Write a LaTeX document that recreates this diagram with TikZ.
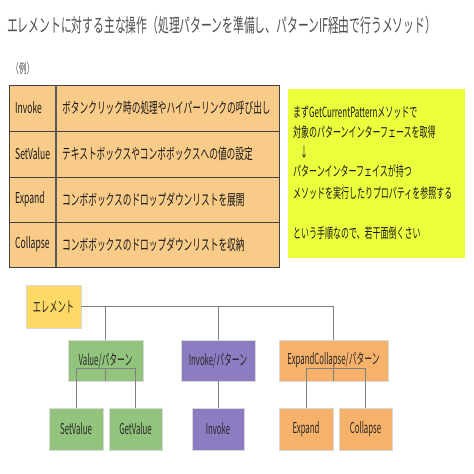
\documentclass[tikz,border=0pt]{standalone}
\usepackage{fontspec}
\usepackage{graphicx}
\setmainfont{Noto Sans CJK JP}
\newcommand{\cnd}[2]{\scalebox{#1}[1]{#2}}
\definecolor{tblfill}{HTML}{F9CB88}
\definecolor{notefill}{HTML}{ECFF3C}
\definecolor{elemfill}{HTML}{FFD966}
\definecolor{grnfill}{HTML}{93C47D}
\definecolor{purfill}{HTML}{8E7CC3}
\definecolor{orgfill}{HTML}{F6B26B}
\definecolor{linegray}{HTML}{808080}
\definecolor{titlegray}{HTML}{505050}
\tikzset{
  txt/.style={inner sep=0pt, anchor=west, text=black!90},
  ttl/.style={inner sep=0pt, anchor=west, text=titlegray, font=\fontsize{19}{22}\selectfont},
  tbl/.style={txt, font=\fontsize{15}{17}\selectfont},
  note/.style={txt, font=\fontsize{14}{16}\selectfont},
  box/.style={draw=white!85!black, line width=0.6pt, inner sep=0pt, text=black!85,
              font=\fontsize{15}{17}\selectfont},
  conn/.style={draw=linegray, line width=0.9pt},
}
\begin{document}
\begin{tikzpicture}[x=1pt,y=-1pt]
\useasboundingbox[fill=white] (0,0) rectangle (474,474);
% title
\node[ttl] (title) at (7,25) {\cnd{0.568}{エレメントに対する主な操作（処理パターンを準備し、パターンIF経由で行うメソッド）}};
\node[txt, text=titlegray, font=\fontsize{13}{15}\selectfont] (rei) at (11,69) {\cnd{0.6}{（例）}};
% table
\fill[tblfill] (9,85) rectangle (279,267);
\draw[black!75, line width=0.8pt] (9,85) rectangle (279,267);
\foreach \yy in {131,177,222} \draw[black!75, line width=0.8pt] (9,\yy) -- (279,\yy);
\draw[black!65, line width=1.2pt] (56,85) -- (56,267);
\node[tbl] (k1) at (15,108) {\cnd{0.57}{Invoke}};
\node[tbl] (v1) at (62,108) {\cnd{0.58}{ボタンクリック時の処理やハイパーリンクの呼び出し}};
\node[tbl] (k2) at (15,154) {\cnd{0.57}{SetValue}};
\node[tbl] (v2) at (62,154) {\cnd{0.58}{テキストボックスやコンボボックスへの値の設定}};
\node[tbl] (k3) at (15,199.5) {\cnd{0.57}{Expand}};
\node[tbl] (v3) at (62,199.5) {\cnd{0.58}{コンボボックスのドロップダウンリストを展開}};
\node[tbl] (k4) at (15,244.5) {\cnd{0.57}{Collapse}};
\node[tbl] (v4) at (62,244.5) {\cnd{0.58}{コンボボックスのドロップダウンリストを収納}};
% note box
\fill[notefill] (288,89) rectangle (465,258);
\node[note] (n1) at (293,112) {\cnd{0.57}{まずGetCurrentPatternメソッドで}};
\node[note] (n2) at (293,132) {\cnd{0.57}{対象のパターンインターフェースを取得}};
\node[note] (n3) at (300,152) {\cnd{0.57}{↓}};
\node[note] (n4) at (293,171) {\cnd{0.57}{パターンインターフェイスが持つ}};
\node[note] (n5) at (293,193) {\cnd{0.57}{メソッドを実行したりプロパティを参照する}};
\node[note] (n6) at (293,233) {\cnd{0.57}{という手順なので、若干面倒くさい}};
% tree
\node[box, fill=elemfill, minimum width=55pt, minimum height=43pt] (elem) at (53.5,306.5) {\cnd{0.55}{エレメント}};
\node[box, fill=grnfill, minimum width=75pt, minimum height=41pt] (val) at (105.5,360.5) {\cnd{0.52}{Value/パターン}};
\node[box, fill=purfill, minimum width=74pt, minimum height=41pt] (inv) at (218,360.5) {\cnd{0.52}{Invoke/パターン}};
\node[box, fill=orgfill, minimum width=109pt, minimum height=41pt] (ec) at (333.5,360.5) {\cnd{0.52}{ExpandCollapse/パターン}};
\node[box, fill=grnfill, minimum width=54pt, minimum height=42pt] (sv) at (76,429) {\cnd{0.52}{SetValue}};
\node[box, fill=grnfill, minimum width=53pt, minimum height=42pt] (gv) at (135.5,429) {\cnd{0.52}{GetValue}};
\node[box, fill=purfill, minimum width=52pt, minimum height=42pt] (iv) at (218,429) {\cnd{0.52}{Invoke}};
\node[box, fill=orgfill, minimum width=54pt, minimum height=42pt] (ex) at (306,429) {\cnd{0.52}{Expand}};
\node[box, fill=orgfill, minimum width=53pt, minimum height=42pt] (co) at (365.5,429) {\cnd{0.52}{Collapse}};
\coordinate (vj) at ([yshift=13pt]val.south);
\coordinate (ej) at ([yshift=13pt]ec.south);
\draw[conn] (elem.east) -- (elem.east -| ec.north) -- (ec.north);
\draw[conn] (val.north) -- (val.north |- elem.east);
\draw[conn] (inv.north) -- (inv.north |- elem.east);
\draw[conn] (val.south) -- (vj);
\draw[conn] (sv.north) |- (vj) -| (gv.north);
\draw[conn] (inv.south) -- (iv.north);
\draw[conn] (ec.south) -- (ej);
\draw[conn] (ex.north) |- (ej) -| (co.north);
\end{tikzpicture}
\end{document}
